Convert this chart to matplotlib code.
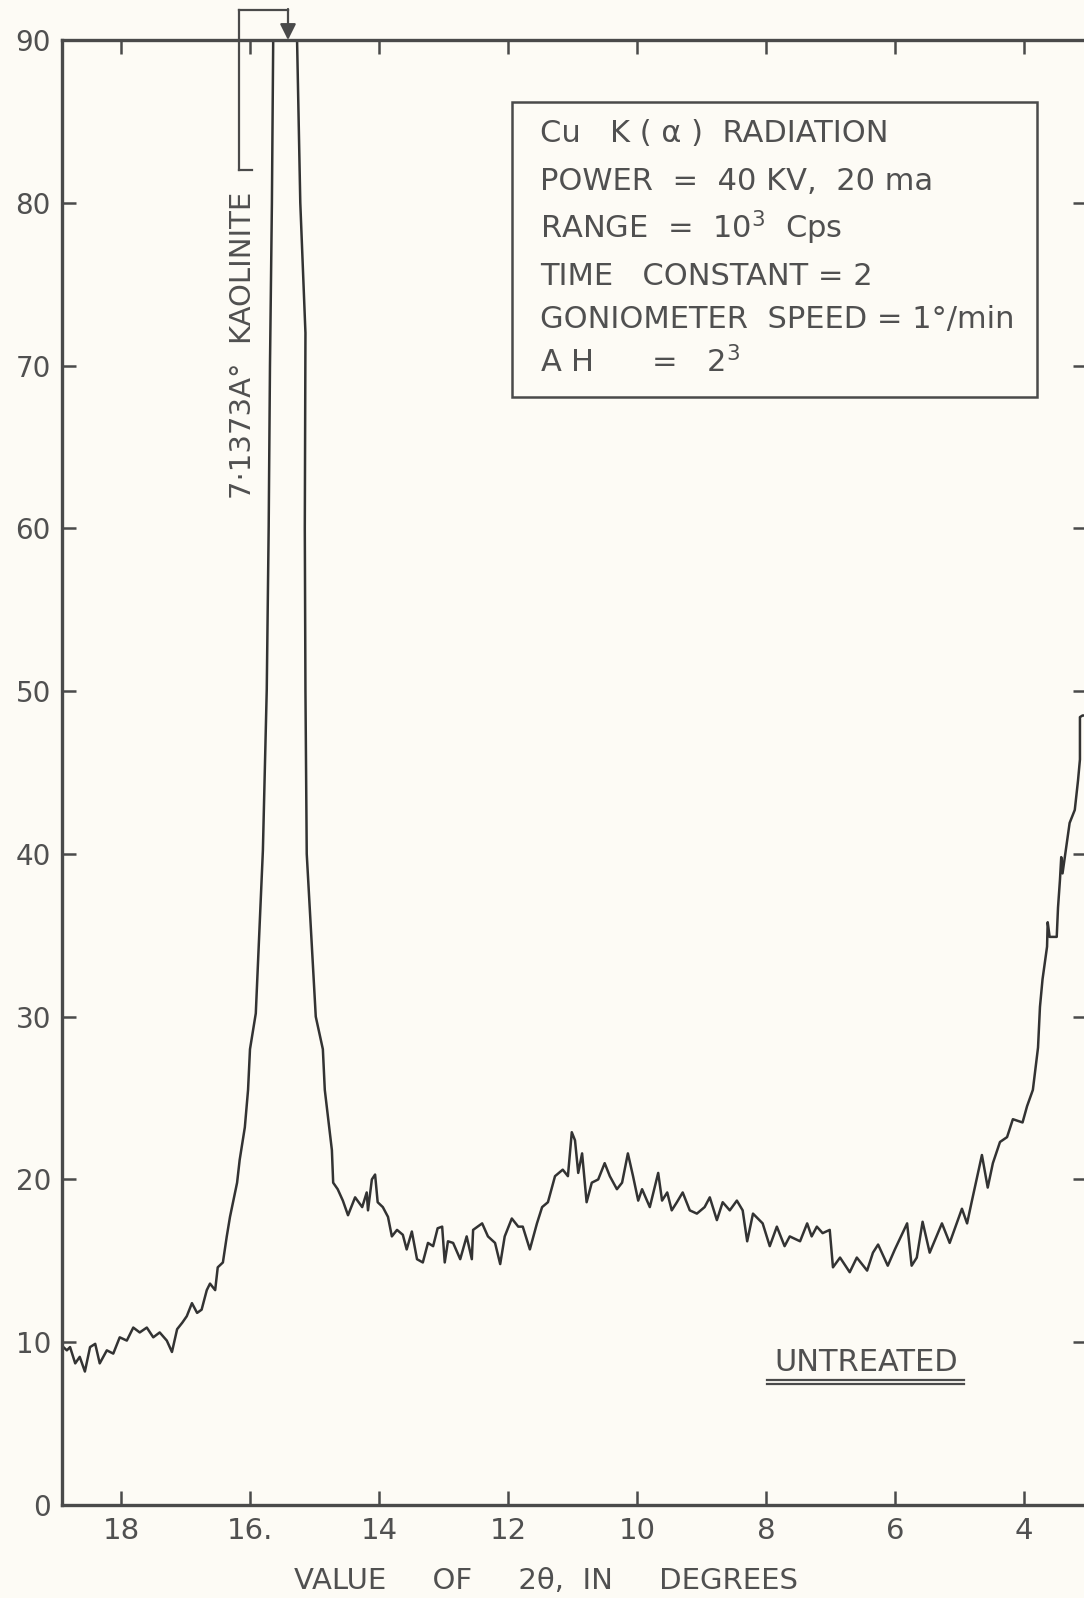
import matplotlib
matplotlib.use("Agg")
import matplotlib.pyplot as plt
from matplotlib.patches import Rectangle
from matplotlib.lines import Line2D

plt.rcParams['font.family'] = ['DejaVu Sans']
plt.rcParams['mathtext.default'] = 'regular'

# ---------------- data ----------------
two_theta = [
    18.92, 18.84, 18.79, 18.71, 18.64, 18.56, 18.48, 18.40, 18.33, 18.22,
    18.12, 18.02, 17.91, 17.81, 17.71, 17.60, 17.50, 17.40, 17.29, 17.21,
    17.13, 17.05, 16.98, 16.90, 16.82, 16.75, 16.67, 16.62, 16.54, 16.50,
    16.42, 16.36, 16.31, 16.20, 16.16, 16.08, 16.03, 16.00, 15.91, 15.80,
    15.74, 15.71, 15.69, 15.66, 15.64, 15.45, 15.27, 15.22, 15.14, 15.15,
    15.14, 15.12, 14.98, 14.87, 14.84, 14.73, 14.71,
    14.64, 14.56, 14.48, 14.37, 14.26, 14.19, 14.17, 14.11, 14.06, 14.02,
    13.94, 13.86, 13.80, 13.72, 13.63, 13.57, 13.49, 13.41, 13.32, 13.24,
    13.16, 13.09, 13.02, 12.98, 12.93, 12.85, 12.74, 12.64, 12.56, 12.54,
    12.40, 12.31, 12.20, 12.12, 12.05, 11.94, 11.84, 11.77, 11.66, 11.55,
    11.47, 11.38, 11.27, 11.15, 11.07, 11.01, 10.96, 10.91, 10.85, 10.78,
    10.70, 10.60, 10.50, 10.42, 10.31, 10.23, 10.14, 10.06, 9.98, 9.92,
    9.80, 9.67, 9.61, 9.53, 9.46, 9.38, 9.29, 9.18, 9.07, 8.95,
    8.87, 8.76, 8.67, 8.56, 8.45, 8.36, 8.29, 8.20, 8.05, 7.94,
    7.83, 7.71, 7.63, 7.47, 7.36, 7.29, 7.21, 7.12, 7.01, 6.96,
    6.85, 6.70, 6.59, 6.43, 6.34, 6.26, 6.11, 6.00, 5.81, 5.74,
    5.66, 5.57, 5.46, 5.27, 5.15, 4.96, 4.88, 4.81, 4.65, 4.56,
    4.48, 4.37, 4.26, 4.17, 4.02, 3.95, 3.86, 3.78, 3.75, 3.71,
    3.64, 3.63, 3.60, 3.49, 3.47, 3.44, 3.42, 3.40, 3.29, 3.21,
    3.16, 3.13, 3.13, 3.09, 3.04,
]
intensity = [
    9.8, 9.5, 9.7, 8.7, 9.1, 8.2, 9.7, 9.9, 8.7, 9.5,
    9.3, 10.3, 10.1, 10.9, 10.6, 10.9, 10.3, 10.6, 10.1, 9.4,
    10.8, 11.2, 11.6, 12.4, 11.8, 12.0, 13.2, 13.6, 13.2, 14.6,
    14.9, 16.5, 17.7, 19.8, 21.2, 23.2, 25.5, 28.0, 30.2, 40.2,
    50.1, 60.1, 70.0, 80.0, 90.0, 110.0, 90.0, 80.0, 72.0, 60.0,
    50.0, 40.0, 30.0, 28.0, 25.5, 21.8, 19.8,
    19.4, 18.7, 17.8, 18.9, 18.3, 19.2, 18.1, 20.0, 20.3, 18.6,
    18.3, 17.7, 16.5, 16.9, 16.6, 15.7, 16.8, 15.1, 14.9, 16.1,
    15.9, 17.0, 17.1, 14.9, 16.2, 16.1, 15.1, 16.5, 15.1, 16.9,
    17.3, 16.5, 16.1, 14.8, 16.5, 17.6, 17.1, 17.1, 15.7, 17.3,
    18.3, 18.6, 20.2, 20.6, 20.2, 22.9, 22.4, 20.4, 21.6, 18.6,
    19.8, 20.0, 21.0, 20.2, 19.4, 19.8, 21.6, 20.2, 18.7, 19.4,
    18.3, 20.4, 18.7, 19.2, 18.1, 18.6, 19.2, 18.1, 17.9, 18.3,
    18.9, 17.5, 18.6, 18.1, 18.7, 18.1, 16.2, 17.9, 17.3, 15.9,
    17.1, 15.9, 16.5, 16.2, 17.3, 16.5, 17.1, 16.7, 16.9, 14.6,
    15.2, 14.3, 15.2, 14.4, 15.5, 16.0, 14.7, 15.7, 17.3, 14.7,
    15.2, 17.4, 15.5, 17.3, 16.1, 18.2, 17.3, 18.6, 21.5, 19.5,
    21.0, 22.3, 22.6, 23.7, 23.5, 24.5, 25.5, 28.1, 30.6, 32.3,
    34.3, 35.8, 34.9, 34.9, 36.7, 38.4, 39.8, 38.8, 41.9, 42.7,
    44.5, 45.8, 48.4, 48.5, 48.5,
]

x_ticks = [18, 16, 14, 12, 10, 8, 6, 4]
x_tick_labels = ['18', '16.', '14', '12', '10', '8', '6', '4']
y_ticks = [0, 10, 20, 30, 40, 50, 60, 70, 80, 90]
y_tick_labels = ['0', '10', '20', '30', '40', '50', '60', '70', '80', '90']

info_lines = [
    'Cu   K ( α )  RADIATION',
    'POWER  =  40 KV,  20 ma',
    'RANGE  =  10$^3$  Cps',
    'TIME   CONSTANT = 2',
    'GONIOMETER  SPEED = 1°/min',
    'A H      =   2$^3$',
]
peak_label = '7·1373A°  KAOLINITE'
sample_label = 'UNTREATED'
x_label = 'VALUE     OF     2θ,  IN     DEGREES'

# ---------------- styling ----------------
paper = '#fdfbf5'
ink = '#333333'
txt = '#505050'

fig = plt.figure(figsize=(10.84, 15.98), dpi=100, facecolor=paper)
ax = fig.add_axes([0.0572, 0.0582, 0.9456, 0.9168], facecolor=paper)

ax.plot(two_theta, intensity, color=ink, lw=1.8, solid_joinstyle='round')

ax.set_xlim(18.915, 3.02)
ax.set_ylim(0, 90)

for s in ax.spines.values():
    s.set_linewidth(2.4)
    s.set_color('#4a4a4a')

ax.set_xticks(x_ticks)
ax.set_xticklabels(x_tick_labels)
ax.set_yticks(y_ticks)
ax.set_yticklabels(y_tick_labels)
ax.tick_params(which='both', direction='in', length=10, width=1.8,
               color='#4a4a4a', labelcolor=txt,
               top=True, right=True, labeltop=False, labelright=False)
ax.tick_params(axis='y', labelsize=20, pad=8)
ax.tick_params(axis='x', labelsize=21, pad=9)

# info box
ax.add_patch(Rectangle((0.439, 0.7563), 0.951 - 0.439, 0.9577 - 0.7563,
                       transform=ax.transAxes, fill=False,
                       edgecolor='#4a4a4a', lw=1.8))
line_y = [0.9360, 0.9033, 0.8715, 0.8387, 0.8090, 0.7800]
for t, yy in zip(info_lines, line_y):
    ax.text(0.466, yy, t, transform=ax.transAxes, fontsize=22,
            color=txt, va='center', ha='left')

# kaolinite label and leader arrow
ax.text(0.1766, 0.6867, peak_label, transform=ax.transAxes, rotation=90,
        fontsize=21, color=txt, ha='center', va='bottom')
fx = lambda px: px / 1084.0
fy = lambda py: 1 - py / 1598.0
for (x0, y0, x1, y1) in [(239, 10, 239, 170), (239, 170, 252, 170),
                         (239, 10, 288, 10)]:
    fig.add_artist(Line2D([fx(x0), fx(x1)], [fy(y0), fy(y1)],
                          transform=fig.transFigure, color='#4a4a4a',
                          lw=1.6, clip_on=False))
ax.annotate('', xy=(fx(288), fy(40)), xytext=(fx(288), fy(9)),
            xycoords='figure fraction', textcoords='figure fraction',
            arrowprops=dict(arrowstyle='-|>', mutation_scale=24,
                            lw=1.6, color='#4a4a4a', shrinkA=0, shrinkB=0),
            annotation_clip=False)

# UNTREATED label with double underline
ax.text(0.785, 0.0975, sample_label, transform=ax.transAxes, fontsize=22,
        color=txt, ha='center', va='center')
for yy in (0.0850, 0.0823):
    ax.add_line(Line2D([0.6880, 0.8800], [yy, yy], transform=ax.transAxes,
                       color='#4a4a4a', lw=1.6))

fig.text(0.5037, 0.0105, x_label, fontsize=21, color=txt,
         ha='center', va='center')

fig.savefig('out.png', dpi=100, facecolor=paper)
